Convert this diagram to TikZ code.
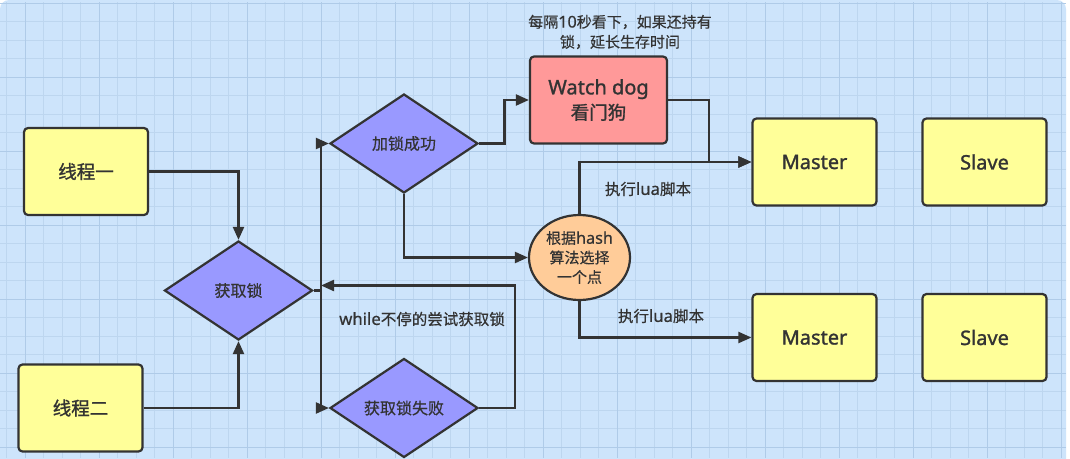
\documentclass[tikz,border=0pt]{standalone}
\usepackage{fontspec}
\setmainfont{Noto Sans CJK SC}[FakeBold=0.5]
\newfontfamily\medcjk{Noto Sans CJK SC}[FakeBold=1.3]
\newfontfamily\lat{Noto Sans}[Scale=1.08,FakeBold=0.5]
\newfontfamily\medlat{Noto Sans}[Scale=1.08,FakeBold=1.3]
\usetikzlibrary{arrows.meta,shapes.geometric}
\definecolor{bgblue}{HTML}{CDE4FB}
\definecolor{gridminor}{HTML}{BDD6EF}
\definecolor{gridmajor}{HTML}{AFCBE8}
\definecolor{ink}{HTML}{333333}
\definecolor{boxyellow}{HTML}{FFFF99}
\definecolor{boxpurple}{HTML}{9999FF}
\definecolor{boxred}{HTML}{FF9999}
\definecolor{boxorange}{HTML}{FFCC99}
\tikzset{
  base/.style={draw=ink, line width=2.2pt, text=ink, inner sep=0pt},
  ybox/.style={base, rectangle, rounded corners=4pt, fill=boxyellow,
    minimum width=124pt, minimum height=87pt, font=\fontsize{18.5}{22}\medcjk},
  rbox/.style={base, rectangle, rounded corners=4pt, fill=boxred,
    minimum width=137pt, minimum height=87pt, align=center, font=\fontsize{18.5}{25}\medcjk},
  dmd/.style={base, diamond, fill=boxpurple, minimum width=148pt, minimum height=99pt,
    font=\fontsize{16}{19}\selectfont},
  oval/.style={base, ellipse, fill=boxorange, minimum width=101pt, minimum height=85pt,
    align=center, font=\fontsize{15}{19.5}\selectfont},
  lbl/.style={text=ink, inner sep=0pt, font=\fontsize{15.5}{20}\selectfont},
  note/.style={text=ink, inner sep=0pt, align=center, font=\fontsize{15}{20}\selectfont},
  conn/.style={draw=ink, line width=2.2pt},
  arr/.style={conn, -{Triangle[length=13pt,width=11pt]}},
}
\begin{document}
\begin{tikzpicture}[x=1pt,y=-1pt]
\useasboundingbox (0,0) rectangle (1070,458);
\clip (0,0) rectangle (1070,458);
\fill[white] (0,0) rectangle (1070,458);
\fill[bgblue, rounded corners=9pt] (0,0) rectangle (1066,480);
% grid
\foreach \i in {0,...,58} \draw[gridminor, line width=0.8pt] ({6.5+18.5*\i},2) -- ({6.5+18.5*\i},458);
\foreach \i in {0,...,25} \draw[gridminor, line width=0.8pt] (0,{3+18.5*\i}) -- (1066,{3+18.5*\i});
\foreach \i in {0,...,14} \draw[gridmajor, line width=1pt] ({25+74*\i},2) -- ({25+74*\i},458);
\foreach \i in {0,...,6} \draw[gridmajor, line width=1pt] (0,{3+74*\i}) -- (1066,{3+74*\i});

% nodes
\node[ybox] (t1) at (86,171.5) {线程一};
\node[ybox] (t2) at (80.5,408) {线程二};
\node[dmd] (lock) at (238.5,290.5) {获取锁};
\node[dmd] (ok) at (404,143.5) {加锁成功};
\node[dmd] (fail) at (404,408) {获取锁失败};
\node[rbox] (wd) at (598.5,100) {{\medlat Watch dog}\\看门狗};
\node[oval] (hc) at (579.5,257.5) {根据{\lat hash}\\算法选择\\一个点};
\node[ybox] (m1) at (814.5,162) {\medlat Master};
\node[ybox] (s1) at (984.5,162) {\medlat Slave};
\node[ybox] (m2) at (814.5,337.5) {\medlat Master};
\node[ybox] (s2) at (984.5,337.5) {\medlat Slave};

% labels
\node[note] (notetext) at (620,32) {每隔{\lat 10}秒看下，如果还持有\\锁，延长生存时间};
\node[lbl] (lua1) at (648,189) {执行{\lat lua}脚本};
\node[lbl] (lua2) at (661,316) {执行{\lat lua}脚本};
\node[lbl] (while) at (422,319) {{\lat while}不停的尝试获取锁};

% helper coordinates
\coordinate (j) at (321,290.5);
\coordinate (jr) at (321,285.5);
\coordinate (loopc) at (515,285.5);
\coordinate (k1) at (504.5,143.5);
\coordinate (k2) at (709,162);

% connectors
\draw[arr] (t1.east) -| (lock.north);
\draw[arr] (t2.east) -| (lock.south);
\draw[conn] (lock.east) -- (j);
\draw[arr] (j) |- (ok.west);
\draw[arr] (j) |- (fail.west);
\draw[arr] (fail.east) -| (loopc) -- (jr);
\draw[arr] (ok.east) -- (k1) |- (wd.west);
\draw[arr] (ok.south) |- (hc.west);
\draw[arr] (wd.east) -| (k2) -- (m1.west);
\draw[arr] (hc.north) |- (m1.west);
\draw[arr] (hc.south) |- (m2.west);
\end{tikzpicture}
\end{document}
